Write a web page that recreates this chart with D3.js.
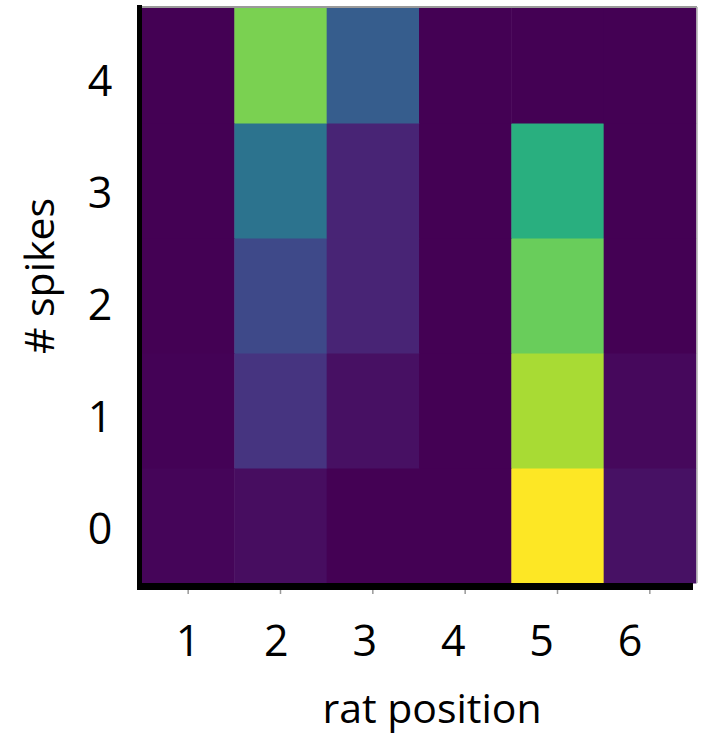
<!DOCTYPE html>
<html>
<head>
<meta charset="utf-8">
<script src="https://cdn.jsdelivr.net/npm/d3@7"></script>
<style>
html,body{margin:0;padding:0;background:#fff;}
svg{display:block;font-family:"Open Sans","Noto Sans",sans-serif;}
</style>
</head>
<body>
<svg id="chart" width="709" height="735"></svg>
<script>
const positions = [1, 2, 3, 4, 5, 6];
const spikes = [0, 1, 2, 3, 4];
// values[spike][position], normalised 0..1
const spikes0 = [0.015, 0.035, 0.0, 0.0, 1.0, 0.045];
const spikes1 = [0.005, 0.15, 0.04, 0.0, 0.87, 0.02];
const spikes2 = [0.0, 0.22, 0.1, 0.0, 0.77, 0.0];
const spikes3 = [0.0, 0.38, 0.1, 0.0, 0.63, 0.0];
const spikes4 = [0.0, 0.8, 0.29, 0.0, 0.0, 0.0];
const valueRows = [spikes0, spikes1, spikes2, spikes3, spikes4];
const xTickLabels = ["1", "2", "3", "4", "5", "6"];
const yTickLabels = ["0", "1", "2", "3", "4"];
const xTitle = "rat position";
const yTitle = "# spikes";

(function () {
const svg = d3.select("#chart");
const mLeft = 142, mRight = 696, mTop = 8, mBottom = 583;

const x = d3.scaleBand().domain(positions).range([mLeft, mRight]).padding(0);
const y = d3.scaleBand().domain(spikes).range([mBottom, mTop]).padding(0);
const color = d3.scaleSequential(d3.interpolateViridis).domain([0, 1]);

const cells = [];
spikes.forEach((s, i) => positions.forEach((p, j) => cells.push({s, p, v: valueRows[i][j]})));

svg.append("g").selectAll("rect").data(cells).join("rect")
  .attr("x", d => x(d.p))
  .attr("y", d => y(d.s))
  .attr("width", x.bandwidth() + 0.5)
  .attr("height", y.bandwidth() + 0.5)
  .attr("fill", d => color(d.v));

// thin grey edge on top and right of image
svg.append("line").attr("x1", mLeft).attr("x2", mRight + 1).attr("y1", mTop - 1).attr("y2", mTop - 1)
  .attr("stroke", "#9a9a9a").attr("stroke-width", 2);
svg.append("line").attr("x1", mRight + 1).attr("x2", mRight + 1).attr("y1", mTop - 1).attr("y2", mBottom)
  .attr("stroke", "#b0b0b0").attr("stroke-width", 1.5);

// X axis ticks (small grey)
const xAxis = d3.axisBottom(x).tickSize(5).tickFormat(() => "");
const gx = svg.append("g").attr("transform", `translate(0,${mBottom + 6})`).call(xAxis);
gx.select(".domain").remove();
gx.selectAll(".tick line").attr("stroke", "#999").attr("stroke-width", 1.5);

// X tick labels
const xLab = d3.scalePoint().domain(positions).range([188, 630]);
svg.append("g").selectAll("text").data(positions).join("text")
  .attr("x", d => xLab(d))
  .attr("y", 656)
  .attr("text-anchor", "middle")
  .attr("font-size", 43)
  .attr("fill", "#000")
  .text((d, i) => xTickLabels[i]);

// Y tick labels
const yLab = d3.scalePoint().domain(spikes).range([544, 96]);
svg.append("g").selectAll("text").data(spikes).join("text")
  .attr("x", 100)
  .attr("y", d => yLab(d))
  .attr("text-anchor", "middle")
  .attr("font-size", 43)
  .attr("fill", "#000")
  .text((d, i) => yTickLabels[i]);

// axis lines (black, thick)
svg.append("line").attr("x1", 139.5).attr("x2", 139.5).attr("y1", 5).attr("y2", 590)
  .attr("stroke", "#000").attr("stroke-width", 5);
svg.append("line").attr("x1", 137).attr("x2", 693).attr("y1", 586.5).attr("y2", 586.5)
  .attr("stroke", "#000").attr("stroke-width", 7);

// titles
svg.append("text").attr("x", 432).attr("y", 723).attr("text-anchor", "middle")
  .attr("font-size", 41).attr("fill", "#000").text(xTitle);
svg.append("text").attr("transform", "translate(54,276) rotate(-90)")
  .attr("text-anchor", "middle").attr("font-size", 41).attr("fill", "#000").text(yTitle);
})();
</script>
</body>
</html>
